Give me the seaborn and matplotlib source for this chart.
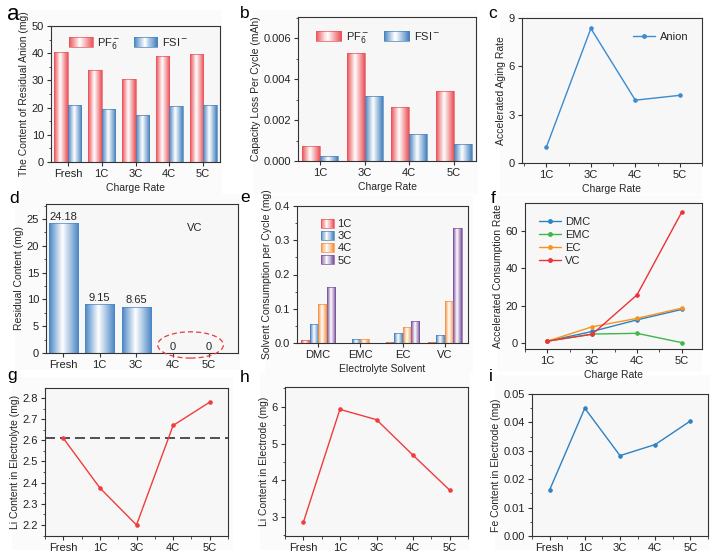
import numpy as np
import pandas as pd
import matplotlib
matplotlib.use("Agg")
import matplotlib.pyplot as plt
import seaborn as sns
from matplotlib.colors import LinearSegmentedColormap
from matplotlib.patches import Rectangle, Patch, Ellipse
from matplotlib.lines import Line2D
from matplotlib.legend_handler import HandlerBase
from matplotlib.ticker import MultipleLocator

# ---- data ----
rates5 = ["Fresh", "1C", "3C", "4C", "5C"]
rates4 = ["1C", "3C", "4C", "5C"]

anion_pf6 = [40.5, 34.0, 30.5, 39.0, 39.8]
anion_fsi = [21.0, 19.6, 17.2, 20.5, 20.8]

loss_pf6 = [0.00075, 0.00527, 0.00265, 0.00342]
loss_fsi = [0.00025, 0.00317, 0.00130, 0.00082]

aging_rate = [1.0, 8.35, 3.9, 4.2]

vc_residual = [24.18, 9.15, 8.65, 0, 0]
vc_labels = ["24.18", "9.15", "8.65", "0", "0"]

solvents = ["DMC", "EMC", "EC", "VC"]
cons_1c = [0.008, 0.001, 0.002, 0.004]
cons_3c = [0.056, 0.012, 0.030, 0.022]
cons_4c = [0.114, 0.013, 0.046, 0.123]
cons_5c = [0.163, 0.000, 0.064, 0.335]

acc_dmc = [1.0, 6.2, 12.4, 18.0]
acc_emc = [1.0, 4.8, 5.2, 0.2]
acc_ec = [1.0, 8.7, 13.2, 18.7]
acc_vc = [1.0, 4.7, 25.8, 70.2]

li_electrolyte = [2.61, 2.375, 2.20, 2.67, 2.78]
li_electrode = [2.85, 5.93, 5.65, 4.68, 3.73]
fe_electrode = [0.0162, 0.0450, 0.0283, 0.0322, 0.0405]

RED = "#ea5258"
BLUE = "#4682be"
ORANGE = "#f5913d"
PURPLE = "#7b519f"

sns.set_style("ticks")
plt.rcParams["font.family"] = ["Liberation Sans", "DejaVu Sans"]
plt.rcParams["axes.edgecolor"] = "#333333"
plt.rcParams["axes.linewidth"] = 0.8
plt.rcParams["axes.facecolor"] = "#f7f7f7"
plt.rcParams["xtick.color"] = "#333333"
plt.rcParams["ytick.color"] = "#333333"
plt.rcParams["xtick.labelcolor"] = "#222222"
plt.rcParams["ytick.labelcolor"] = "#222222"

W, H = 719, 560
fig = plt.figure(figsize=(W / 100, H / 100), dpi=100)
fig.patch.set_facecolor("white")

# faint panel backgrounds of the pasted sub-figures
for x0, y0, x1, y1 in [(22, 10, 222, 194), (253, 10, 478, 194), (500, 12, 702, 194),
                       (15, 194, 240, 370), (265, 195, 473, 373), (497, 195, 702, 372),
                       (12, 377, 233, 550), (260, 373, 470, 550), (495, 375, 710, 550)]:
    fig.patches.append(Rectangle((x0 / W, 1 - y1 / H), (x1 - x0) / W, (y1 - y0) / H,
                                 transform=fig.transFigure, facecolor="#fbfbfb",
                                 edgecolor="none", zorder=-10))


def make_ax(x0, y0, x1, y1):
    return fig.add_axes([x0 / W, 1 - y1 / H, (x1 - x0) / W, (y1 - y0) / H])


def grad_cmap(color):
    return LinearSegmentedColormap.from_list("g", [(0, color), (0.45, "white"), (1, color)])


def shade_bars(ax, bars, color):
    cmap = grad_cmap(color)
    grad = np.linspace(0, 1, 64).reshape(1, -1)
    for p in bars:
        x, y, w, h = p.get_x(), p.get_y(), p.get_width(), p.get_height()
        p.set_facecolor("none")
        p.set_edgecolor(color)
        p.set_linewidth(0.5)
        if h == 0:
            continue
        im = ax.imshow(grad, cmap=cmap, extent=(x, x + w, y, y + h), aspect="auto",
                       zorder=p.get_zorder() - 0.01, interpolation="bilinear")
        im.set_clip_path(p)


class GradHandler(HandlerBase):
    def __init__(self, color):
        super().__init__()
        self.color = color

    def create_artists(self, legend, orig_handle, xdescent, ydescent, width, height, fontsize, trans):
        cmap = grad_cmap(self.color)
        n = 24
        arts = []
        for k in range(n):
            arts.append(Rectangle((-xdescent + width * k / n, -ydescent), width / n + 0.3, height,
                                  facecolor=cmap((k + 0.5) / n), edgecolor="none", transform=trans))
        arts.append(Rectangle((-xdescent, -ydescent), width, height, facecolor="none",
                              edgecolor=self.color, lw=0.5, transform=trans))
        return arts


def grad_legend(ax, labels, colors, **kw):
    handles = [Patch(label=l) for l in labels]
    hmap = {h: GradHandler(c) for h, c in zip(handles, colors)}
    return ax.legend(handles=handles, handler_map=hmap, frameon=False, fontsize=8, **kw)


def style(ax, xlabel=None, ylabel=None):
    ax.tick_params(axis="both", which="major", direction="out", length=3, width=0.8, labelsize=8, pad=2)
    ax.tick_params(axis="both", which="minor", direction="out", length=1.8, width=0.6)
    if xlabel:
        ax.set_xlabel(xlabel, fontsize=7.5, labelpad=3)
    else:
        ax.set_xlabel("")
    ax.set_ylabel(ylabel, fontsize=7.5, labelpad=2)
    for s in ax.spines.values():
        s.set_visible(True)


def letter(x, y, s, size=12.5):
    fig.text(x / W, 1 - y / H, s, fontsize=size, ha="left", va="baseline", color="black")


# ---- a ----
ax = make_ax(51, 26, 220, 162)
df = pd.DataFrame({"rate": rates5 * 2, "val": anion_pf6 + anion_fsi,
                   "ion": ["PF6"] * 5 + ["FSI"] * 5})
sns.barplot(data=df, x="rate", y="val", hue="ion", order=rates5, hue_order=["PF6", "FSI"],
            palette=[RED, BLUE], width=0.8, ax=ax, legend=False)
shade_bars(ax, ax.containers[0], RED)
shade_bars(ax, ax.containers[1], BLUE)
ax.set_xlim(-0.5, 4.5)
ax.set_ylim(0, 50)
ax.yaxis.set_major_locator(MultipleLocator(10))
ax.yaxis.set_minor_locator(MultipleLocator(5))
grad_legend(ax, ["PF$_6^-$", "FSI$^-$"], [RED, BLUE], loc="upper center", ncol=2,
            bbox_to_anchor=(0.46, 1.0), handlelength=2.1, handleheight=1.0, columnspacing=1.2,
            handletextpad=0.4)
style(ax, "Charge Rate", "The Content of Residual Anion (mg)")
letter(7, 20, "a", 16)

# ---- b ----
ax = make_ax(298, 17, 476, 161)
df = pd.DataFrame({"rate": rates4 * 2, "val": loss_pf6 + loss_fsi,
                   "ion": ["PF6"] * 4 + ["FSI"] * 4})
sns.barplot(data=df, x="rate", y="val", hue="ion", order=rates4, hue_order=["PF6", "FSI"],
            palette=[RED, BLUE], width=0.8, ax=ax, legend=False)
shade_bars(ax, ax.containers[0], RED)
shade_bars(ax, ax.containers[1], BLUE)
ax.set_xlim(-0.5, 3.5)
ax.set_ylim(0, 0.00705)
ax.yaxis.set_major_locator(MultipleLocator(0.002))
ax.yaxis.set_minor_locator(MultipleLocator(0.001))
ax.yaxis.set_major_formatter(lambda v, p: f"{v:.3f}")
grad_legend(ax, ["PF$_6^-$", "FSI$^-$"], [RED, BLUE], loc="upper center", ncol=2,
            bbox_to_anchor=(0.45, 0.98), handlelength=2.3, handleheight=1.0, columnspacing=1.3,
            handletextpad=0.4)
style(ax, "Charge Rate", "Capacity Loss Per Cycle (mAh)")
letter(240, 18, "b")

# ---- c ----
ax = make_ax(522, 18, 702, 163)
sns.pointplot(x=rates4, y=aging_rate, color="#3a8bd0", markers="o", markersize=2.5,
              linewidth=1.0, errorbar=None, ax=ax)
ax.set_xlim(-0.55, 3.5)
ax.set_ylim(0, 9)
ax.yaxis.set_major_locator(MultipleLocator(3))
ax.xaxis.set_minor_locator(MultipleLocator(0.5))
ax.legend(handles=[Line2D([], [], color="#3a8bd0", marker="o", markersize=2.5, lw=1.0, label="Anion")],
          loc="upper right", frameon=False, fontsize=8, handlelength=2.0, handletextpad=0.4,
          bbox_to_anchor=(0.98, 0.97))
style(ax, "Charge Rate", "Accelerated Aging Rate")
letter(488, 18, "c")

# ---- d ----
ax = make_ax(46, 204, 238, 353)
sns.barplot(x=rates5, y=vc_residual, color=BLUE, width=0.8, ax=ax)
shade_bars(ax, ax.containers[0], "#4a86c5")
ax.bar_label(ax.containers[0], labels=vc_labels, fontsize=8, padding=1)
ax.set_xlim(-0.47, 4.79)
ax.set_ylim(0, 27.8)
ax.yaxis.set_major_locator(MultipleLocator(5))
ax.yaxis.set_minor_locator(MultipleLocator(2.5))
ax.text(3.6, 23.3, "VC", fontsize=8, ha="center", va="center")
ax.add_patch(Ellipse((3.49, 1.5), 1.8, 4.9, fill=False, ec="#e83a3a", ls=(0, (4, 2.5)),
                     lw=0.9, clip_on=False, zorder=5))
style(ax, None, "Residual Content (mg)")
letter(9, 203, "d")

# ---- e ----
ax = make_ax(297, 206, 468, 343)
levels = ["1C", "3C", "4C", "5C"]
df = pd.DataFrame({"solvent": solvents * 4, "val": cons_1c + cons_3c + cons_4c + cons_5c,
                   "rate": [l for l in levels for _ in solvents]})
colors_e = [RED, BLUE, ORANGE, PURPLE]
sns.barplot(data=df, x="solvent", y="val", hue="rate", order=solvents, hue_order=levels,
            palette=colors_e, width=0.8, ax=ax, legend=False)
for cont, c in zip(ax.containers, colors_e):
    shade_bars(ax, cont, c)
ax.set_xlim(-0.5, 3.55)
ax.set_ylim(0, 0.4)
ax.yaxis.set_major_locator(MultipleLocator(0.1))
ax.yaxis.set_minor_locator(MultipleLocator(0.05))
ax.yaxis.set_major_formatter(lambda v, p: f"{v:.1f}")
grad_legend(ax, levels, colors_e, loc="upper left", bbox_to_anchor=(0.08, 0.98),
            handlelength=1.2, handleheight=0.9, labelspacing=0.15, handletextpad=0.3)
style(ax, "Electrolyte Solvent", "Solvent Consumption per Cycle (mg)")
letter(240, 202, "e")

# ---- f ----
ax = make_ax(525, 203, 702, 349)
line_cols = {"DMC": "#2b83c6", "EMC": "#3fb54a", "EC": "#f7941d", "VC": "#ed3237"}
df = pd.DataFrame({"rate": rates4 * 4,
                   "val": acc_dmc + acc_emc + acc_ec + acc_vc,
                   "solvent": [s for s in solvents for _ in rates4]})
sns.pointplot(data=df, x="rate", y="val", hue="solvent", hue_order=solvents, order=rates4,
              palette=line_cols, markers="o", markersize=2.5, linewidth=1.0, errorbar=None,
              legend=False, ax=ax)
ax.set_xlim(-0.5, 3.45)
ax.set_ylim(-3.2, 75)
ax.yaxis.set_major_locator(MultipleLocator(20))
ax.xaxis.set_minor_locator(MultipleLocator(0.5))
ax.legend(handles=[Line2D([], [], color=line_cols[s], marker="o", markersize=2.5, lw=1.0, label=s)
                   for s in solvents],
          loc="upper left", frameon=False, fontsize=8, handlelength=2.0, handletextpad=0.4,
          labelspacing=0.25, bbox_to_anchor=(0.02, 0.97))
style(ax, "Charge Rate", "Accelerated Consumption Rate")
letter(491, 203, "f")

# ---- g ----
ax = make_ax(45, 388, 228, 536)
sns.pointplot(x=rates5, y=li_electrolyte, color="#f23b3b", markers="o", markersize=2.5,
              linewidth=1.0, errorbar=None, ax=ax)
ax.axhline(li_electrolyte[0], color="#333333", ls=(0, (6, 3)), lw=1.2, zorder=0.5)
ax.set_xlim(-0.5, 4.5)
ax.set_ylim(2.148, 2.847)
ax.yaxis.set_major_locator(MultipleLocator(0.1))
ax.yaxis.set_minor_locator(MultipleLocator(0.05))
ax.xaxis.set_minor_locator(MultipleLocator(0.5))
style(ax, None, "Li Content in Electrolyte (mg)")
letter(7, 380, "g")

# ---- h ----
ax = make_ax(285, 387, 468, 536)
sns.pointplot(x=rates5, y=li_electrode, color="#f23b3b", markers="o", markersize=2.5,
              linewidth=1.0, errorbar=None, ax=ax)
ax.set_xlim(-0.5, 4.5)
ax.set_ylim(2.48, 6.54)
ax.yaxis.set_major_locator(MultipleLocator(1))
ax.yaxis.set_minor_locator(MultipleLocator(0.5))
ax.xaxis.set_minor_locator(MultipleLocator(0.5))
style(ax, None, "Li Content in Electrode (mg)")
letter(240, 382, "h")

# ---- i ----
ax = make_ax(532, 394, 708, 536)
sns.pointplot(x=rates5, y=fe_electrode, color="#2e81c2", markers="o", markersize=2.5,
              linewidth=1.0, errorbar=None, ax=ax)
ax.set_xlim(-0.5, 4.5)
ax.set_ylim(0, 0.05)
ax.yaxis.set_major_locator(MultipleLocator(0.01))
ax.yaxis.set_minor_locator(MultipleLocator(0.005))
ax.yaxis.set_major_formatter(lambda v, p: f"{v:.2f}")
ax.xaxis.set_minor_locator(MultipleLocator(0.5))
style(ax, None, "Fe Content in Electrode (mg)")
letter(489, 381, "i")

fig.savefig("out.png", dpi=100)
